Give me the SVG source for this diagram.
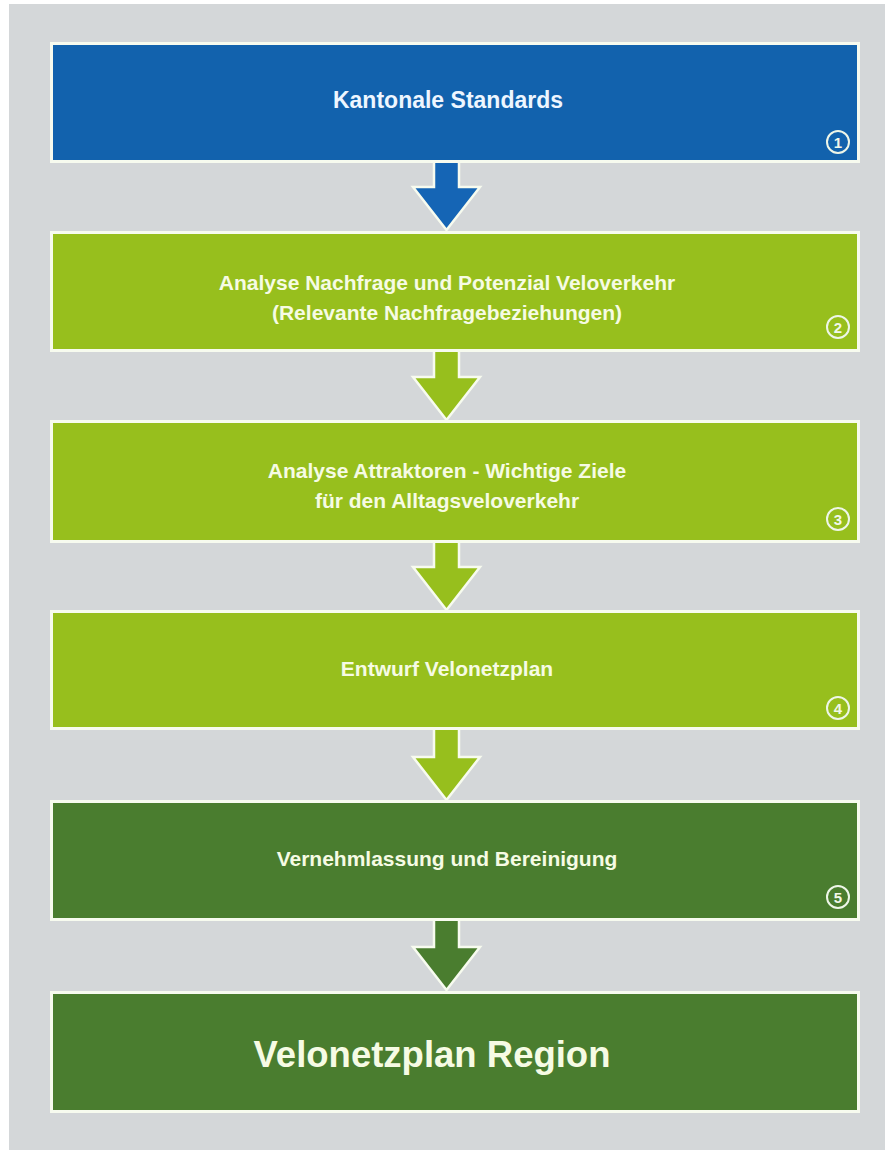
<svg xmlns="http://www.w3.org/2000/svg" width="885" height="1150" viewBox="0 0 885 1150">
<style>
.box{stroke:#f7fbef;stroke-width:3}
.blue{fill:#1262ad}
.lg{fill:#97bf1d}
.dg{fill:#4a7d2f}
.arrow{stroke:#f7fbef;stroke-width:2.5;stroke-linejoin:miter}
.t{font-family:"Liberation Sans",Arial,sans-serif;font-weight:bold;font-size:21px;text-anchor:middle}
.tb{fill:#eef6ff}
.tg{fill:#f6fbe4}
.big{font-size:36.5px}
.num circle{fill:none;stroke:#eef6e8;stroke-width:2}
.num text{font-family:"Liberation Sans",Arial,sans-serif;font-weight:bold;font-size:15px;text-anchor:middle;fill:#f2f8ea}
</style>
<rect x="9" y="4" width="876" height="1146" fill="#d4d7d9"/>
<g id="connectors">
<path class="arrow" fill="#1565b5" d="M434,158 L434,187 L413,187 L446.5,230 L480,187 L459,187 L459,158"/>
<path class="arrow lg" d="M434,348 L434,377 L413,377 L446.5,420 L480,377 L459,377 L459,348"/>
<path class="arrow lg" d="M434,539 L434,567 L413,567 L446.5,610 L480,567 L459,567 L459,539"/>
<path class="arrow lg" d="M434,726 L434,757 L413,757 L446.5,800 L480,757 L459,757 L459,726"/>
<path class="arrow dg" d="M434,917 L434,947 L413,947 L446.5,990 L480,947 L459,947 L459,917"/>
</g>
<g id="node1">
<rect class="box blue" x="51.5" y="43.5" width="807" height="118"/>
<text class="t tb" x="448" y="108" style="font-size:23px">Kantonale Standards</text>
<g class="num"><circle cx="838" cy="142" r="11"/><text x="838" y="147.5">1</text></g>
</g>
<g id="node2">
<rect class="box lg" x="51.5" y="232.5" width="807" height="118"/>
<text class="t tg" x="447" y="290">Analyse Nachfrage und Potenzial Veloverkehr</text>
<text class="t tg" x="447" y="320">(Relevante Nachfragebeziehungen)</text>
<g class="num"><circle cx="838" cy="327" r="11"/><text x="838" y="332.5">2</text></g>
</g>
<g id="node3">
<rect class="box lg" x="51.5" y="421.5" width="807" height="120"/>
<text class="t tg" x="447" y="478">Analyse Attraktoren - Wichtige Ziele</text>
<text class="t tg" x="447" y="508">für den Alltagsveloverkehr</text>
<g class="num"><circle cx="838" cy="519" r="11"/><text x="838" y="524.5">3</text></g>
</g>
<g id="node4">
<rect class="box lg" x="51.5" y="611.5" width="807" height="117"/>
<text class="t tg" x="447" y="676">Entwurf Velonetzplan</text>
<g class="num"><circle cx="838" cy="708" r="11"/><text x="838" y="713.5">4</text></g>
</g>
<g id="node5">
<rect class="box dg" x="51.5" y="801.5" width="807" height="118"/>
<text class="t tg" x="447" y="866">Vernehmlassung und Bereinigung</text>
<g class="num"><circle cx="838" cy="897" r="11"/><text x="838" y="902.5">5</text></g>
</g>
<g id="node6">
<rect class="box dg" x="51.5" y="992.5" width="807" height="119"/>
<text class="t tg big" x="432" y="1067">Velonetzplan Region</text>
</g>
</svg>
